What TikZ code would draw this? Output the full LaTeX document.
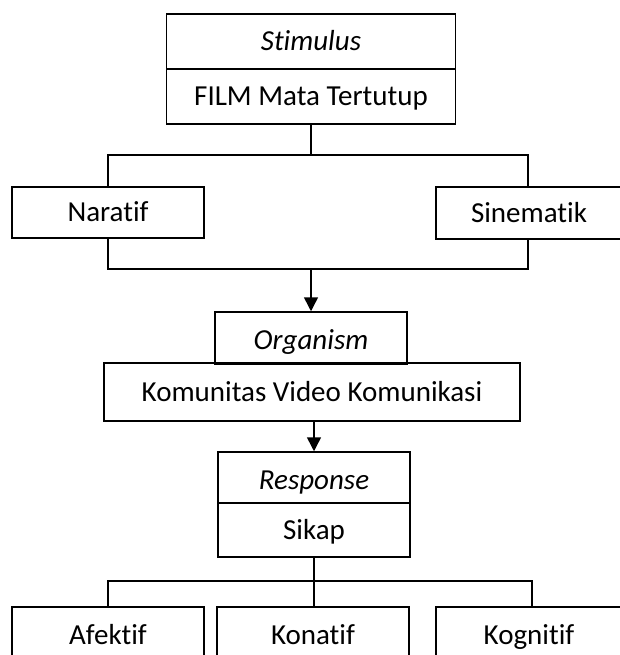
\documentclass[tikz,border=0pt]{standalone}
\usepackage{fontspec}
\setmainfont{Carlito}[Ligatures={NoCommon}]
\usetikzlibrary{arrows.meta}
\begin{document}
\begin{tikzpicture}[x=1pt,y=-1pt,
  box/.style={draw,line width=1.5pt,rectangle,inner sep=0pt,font=\fontsize{29}{35}\selectfont,text height=18.3pt,text depth=0pt},
  lowtext/.style={text height=23pt},
  label/.style={inner sep=0pt,anchor=base,font=\fontsize{29}{35}\selectfont},
  conn/.style={line width=1.5pt},
  arr/.style={line width=1.5pt,-{Triangle[length=14pt,width=14pt]}}]
\useasboundingbox (0,0) rectangle (620,655);
\clip (0,0) rectangle (620,655);
% boxes
\node[box,minimum width=289pt,minimum height=55pt] (stim) at (311,41.5) {\itshape Stimulus};
\node[box,minimum width=289pt,minimum height=55pt] (film) at (311,96.5) {FILM Mata Tertutup};
\node[box,minimum width=192pt,minimum height=51pt] (nar) at (108,212.5) {Naratif};
\node[box,minimum width=186pt,minimum height=52pt] (sin) at (529,213) {Sinematik};
\node[box,lowtext,minimum width=192pt,minimum height=51pt] (org) at (311,337.5) {\itshape Organism};
\node[box,minimum width=416pt,minimum height=58pt] (kom) at (312,392) {Komunitas Video Komunikasi};
\node[box,lowtext,minimum width=192pt,minimum height=51pt] (resp) at (314,477.5) {\itshape Response};
\node[box,minimum width=192pt,minimum height=54pt] (sikap) at (314,530) {Sikap};
\node[box,minimum width=192pt,minimum height=63pt] (af) at (108,638.5) {};
\node[box,minimum width=192pt,minimum height=63pt] (kon) at (313,638.5) {};
\node[box,minimum width=186pt,minimum height=63pt] (kog) at (529,638.5) {};
\node[label] (aft) at (108,644) {Afektif};
\node[label] (kont) at (313,644) {Konatif};
\node[label] (kogt) at (529,644) {Kognitif};
% thicker join under Organism
\draw[line width=2.8pt] (org.south west) -- (org.south east);
% coordinates
\coordinate (t1) at (311,155);
\coordinate (tl) at (108,155);
\coordinate (tr) at (528,155);
\coordinate (ml) at (108,269);
\coordinate (mr) at (528,269);
\coordinate (mc) at (311,269);
\coordinate (bc) at (314,581);
\coordinate (bl) at (108,581);
\coordinate (br) at (532,581);
% connectors
\draw[conn] (film.south) -- (t1);
\draw[conn] (tl |- nar.north) -- (tl) -- (tr) -- (tr |- sin.north);
\draw[conn] (ml |- nar.south) -- (ml) -- (mr) -- (mr |- sin.south);
\draw[arr] (mc) -- (org.north);
\draw[arr] (kom.south -| resp.north) -- (resp.north);
\draw[conn] (sikap.south) -- (bc);
\draw[conn] (bl |- af.north) -- (bl) -- (br) -- (br |- kog.north);
\draw[conn] (bc) -- (bc |- kon.north);
\end{tikzpicture}
\end{document}
